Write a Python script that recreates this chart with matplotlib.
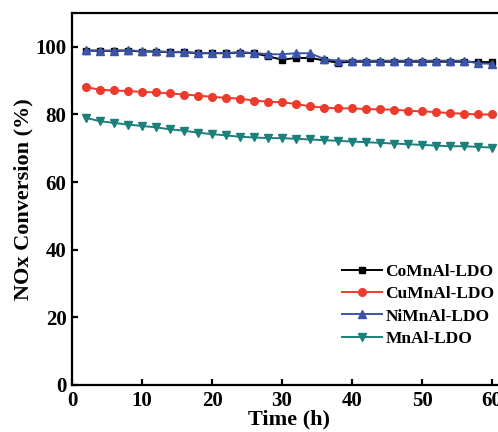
import matplotlib
matplotlib.use('Agg')
import matplotlib.pyplot as plt

# time on stream, one point every 2 h
hours = [2, 4, 6, 8, 10, 12, 14, 16, 18, 20, 22, 24, 26, 28, 30,
         32, 34, 36, 38, 40, 42, 44, 46, 48, 50, 52, 54, 56, 58, 60]

como = [98.9, 98.8, 98.8, 98.9, 98.6, 98.6, 98.4, 98.4, 98.1, 98.1, 98.1, 98.3, 98.1, 97.2, 96.2,
        96.7, 96.7, 96.0, 95.3, 95.6, 95.6, 95.6, 95.6, 95.6, 95.6, 95.6, 95.6, 95.6, 95.5, 95.5]
cumo = [88.1, 87.3, 87.1, 86.9, 86.7, 86.5, 86.2, 85.9, 85.6, 85.2, 84.9, 84.7, 84.1, 83.8, 83.6,
        83.1, 82.4, 82.0, 81.8, 81.8, 81.6, 81.5, 81.4, 81.1, 80.9, 80.7, 80.4, 80.2, 80.0, 80.0]
nimo = [99.0, 98.9, 98.9, 99.0, 98.7, 98.7, 98.5, 98.5, 98.2, 98.2, 98.2, 98.4, 98.2, 97.8, 97.8,
        98.1, 98.1, 96.4, 95.9, 95.9, 95.9, 95.9, 95.9, 95.9, 95.9, 95.9, 95.9, 95.9, 95.1, 95.0]
mnal = [79.0, 78.0, 77.5, 77.0, 76.6, 76.2, 75.6, 75.2, 74.6, 74.2, 73.8, 73.4, 73.2, 73.0, 73.0,
        72.8, 72.6, 72.4, 72.2, 72.0, 71.8, 71.6, 71.4, 71.2, 71.0, 70.8, 70.6, 70.6, 70.4, 70.2]

labels = ['CoMnAl-LDO', 'CuMnAl-LDO', 'NiMnAl-LDO', 'MnAl-LDO']
x_ticks = [0, 10, 20, 30, 40, 50, 60]
y_ticks = [0, 20, 40, 60, 80, 100]

plt.rcParams['font.family'] = 'Liberation Serif'
plt.rcParams['font.weight'] = 'bold'

fig = plt.figure(figsize=(4.98, 4.32), dpi=100)
ax = fig.add_axes([0.1446, 0.1088, 0.8715, 0.8611])

ax.plot(hours, como, color='black', marker='s', markersize=4.5, lw=1.4, label=labels[0])
ax.plot(hours, cumo, color='#ee3a2c', marker='o', markersize=5.5, lw=1.4, label=labels[1])
ax.plot(hours, nimo, color='#3b54a6', marker='^', markersize=5.5, lw=1.4, label=labels[2])
ax.plot(hours, mnal, color='#1b7f7b', marker='v', markersize=5.5, lw=1.4, label=labels[3])

ax.set_xlim(0, 62)
ax.set_ylim(0, 110)
ax.set_xticks(x_ticks)
ax.set_yticks(y_ticks)
ax.tick_params(direction='in', length=4, width=1.6, labelsize=15, pad=4)
for lab in ax.get_xticklabels() + ax.get_yticklabels():
    lab.set_fontweight('bold')
for sp in ax.spines.values():
    sp.set_linewidth(1.6)

ax.set_xlabel('Time (h)', fontsize=16, fontweight='bold', labelpad=-1)
ax.set_ylabel('NOx Conversion (%)', fontsize=16, fontweight='bold', labelpad=1)

fig.legend(loc='upper left', bbox_to_anchor=(0.687, 0.389), frameon=False,
           prop={'size': 12.5, 'weight': 'bold'}, handlelength=2.3,
           handletextpad=0.2, labelspacing=0.35, borderpad=0, borderaxespad=0)

fig.savefig('out.png', dpi=100)
